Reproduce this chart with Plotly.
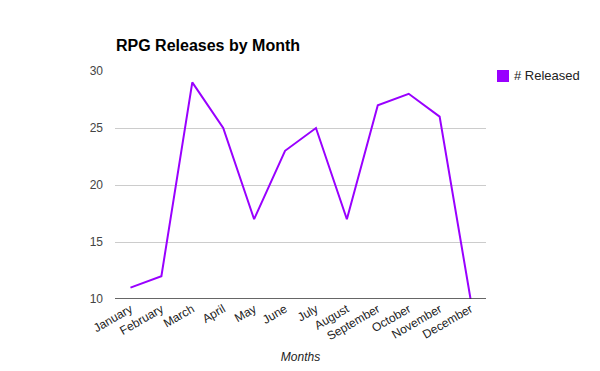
import plotly.graph_objects as go

months = ["January", "February", "March", "April", "May", "June", "July",
          "August", "September", "October", "November", "December"]
released = [11, 12, 29, 25, 17, 23, 25, 17, 27, 28, 26, 10]
y_ticks = [10, 15, 20, 25, 30]
series_name = "# Released"

color = "#9900ff"
off = 8  # page body margin offset
fig = go.Figure()
fig.add_trace(go.Scatter(x=months, y=released, mode="lines",
                         line=dict(color=color, width=2),
                         name=series_name, showlegend=False,
                         hoverinfo="x+y"))

fig.update_layout(
    width=600, height=371,
    margin=dict(l=115 - off, r=114 + off, t=71 - off, b=72 + off, autoexpand=False),
    paper_bgcolor="white", plot_bgcolor="white",
    font=dict(family="Liberation Sans, Arial, sans-serif", size=11, color="#222"),
    title=dict(text="<b>RPG Releases by Month</b>", x=(116 - off)/600, xanchor="left",
               y=1-(45 - off)/371, yanchor="middle",
               font=dict(size=16, color="#000")),
    xaxis=dict(type="category", categoryorder="array", categoryarray=months,
               range=[-0.5, 11.5], showgrid=False, tickangle=-30,
               ticks="", showline=False, zeroline=False, automargin=False,
               tickfont=dict(size=12, color="#222"),
               title=dict(text="<i>Months</i>", font=dict(size=12, color="#222"),
                          standoff=10)),
    yaxis=dict(range=[10, 30], tickvals=y_ticks, showgrid=True,
               gridcolor="#cccccc", gridwidth=1, zeroline=False, automargin=False,
               ticks="", showline=False,
               tickfont=dict(size=12, color="#444"), ticklabelstandoff=11),
    showlegend=False,
    shapes=[dict(type="line", xref="paper", yref="y", x0=0, x1=1, y0=10, y1=10,
                 line=dict(color="#333", width=1.5)),
            dict(type="rect", xref="paper", yref="paper",
                 x0=(497-115)/371, x1=(509-115)/371,
                 y0=(299-82)/228, y1=(299-70)/228,
                 fillcolor=color, line=dict(width=0))],
    annotations=[dict(text=series_name, xref="paper", yref="paper",
                      x=(512-115)/371, y=(299-76)/228, xanchor="left",
                      yanchor="middle", showarrow=False,
                      font=dict(size=13, color="#222"))],
)

fig.write_html("out.html")
